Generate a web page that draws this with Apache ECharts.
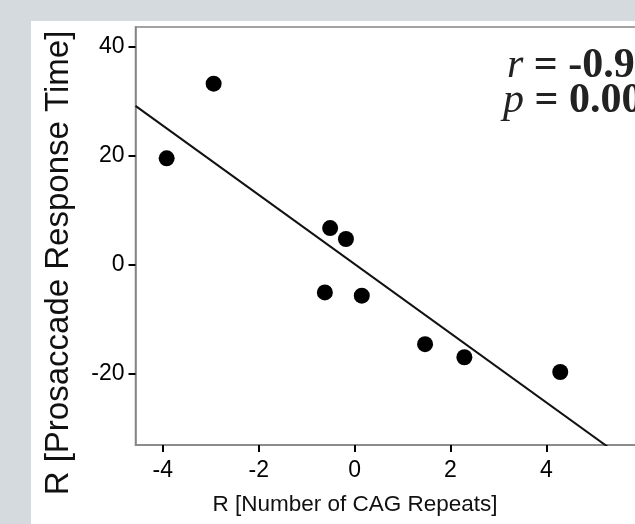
<!DOCTYPE html>
<html>
<head>
<meta charset="utf-8">
<title>Residual correlation: CAG repeats vs prosaccade response time</title>
<script src="https://cdn.jsdelivr.net/npm/echarts@6/dist/echarts.min.js"></script>
<style>
  html, body { margin: 0; padding: 0; }
  body { width: 635px; height: 524px; background: #d4dadd; position: relative; overflow: hidden; }
  /* the white panel runs past the right edge of the window, so the plot frame is cut there */
  #panel { position: absolute; left: 31px; top: 21px; width: 640px; height: 503px; background: #ffffff; }
</style>
</head>
<body>
<div id="panel"></div>
<script>
// Residuals of each subject (x: CAG repeat count, y: prosaccade response time)
const cagResidual = [-3.92, -2.94, -0.51, -0.18, -0.62, 0.15, 1.47, 2.29, 4.29];
const responseResidual = [19.5, 33.2, 6.7, 4.7, -5.1, -5.7, -14.6, -17.0, -19.7];

// Least-squares fit through the residuals
const fitSlope = -6.35;
const fitIntercept = 0.1;

// Axis extents and tick labels
const xExtent = [-4.57, 6.6];
const yExtent = [-33.1, 43.6];
const xTickValues = [-4, -2, 0, 2, 4, 6];
const yTickValues = [-20, 0, 20, 40];

// Correlation statistics
const statR = '-0.91';
const statP = '0.001';

const xTitle = 'R [Number of CAG Repeats]';
const yTitle = 'R [Prosaccade Response Time]';

const points = cagResidual.map((x, i) => [x, responseResidual[i]]);
const fitLine = xExtent.map(x => [x, fitIntercept + fitSlope * x]);

const chart = echarts.init(document.getElementById('panel'), null, { renderer: 'canvas' });

const frameColor = '#858585';
const tickColor = '#000000';
const sans = '"Liberation Sans", Arial, sans-serif';
const serif = '"Liberation Serif", "Times New Roman", serif';
const statRich = {
  i: { font: 'italic 42px ' + serif, fill: '#222' },
  b: { font: 'bold 42px ' + serif, fill: '#222' }
};

chart.setOption({
  animation: false,
  backgroundColor: '#ffffff',
  grid: {
    left: 104.5, top: 6, right: 0, bottom: 79,
    show: true, borderColor: frameColor, borderWidth: 1.5, backgroundColor: 'transparent'
  },
  xAxis: {
    type: 'value',
    min: xExtent[0], max: xExtent[1],
    axisLine: { show: true, onZero: false, lineStyle: { color: frameColor, width: 1.5 } },
    axisTick: { show: true, customValues: xTickValues, length: 7, lineStyle: { color: tickColor, width: 2 } },
    axisLabel: { customValues: xTickValues, margin: 14, color: '#000', fontSize: 23, fontFamily: sans },
    splitLine: { show: false }
  },
  yAxis: {
    type: 'value',
    min: yExtent[0], max: yExtent[1],
    axisLine: { show: true, onZero: false, lineStyle: { color: frameColor, width: 1.5 } },
    axisTick: { show: true, customValues: yTickValues, length: 7, lineStyle: { color: tickColor, width: 2 } },
    axisLabel: { customValues: yTickValues, margin: 11, color: '#000', fontSize: 23, fontFamily: sans },
    splitLine: { show: false }
  },
  graphic: [
    {
      type: 'text', x: 324, y: 484,
      style: { text: xTitle, font: '22.5px ' + sans, fill: '#111', textAlign: 'center', textVerticalAlign: 'middle' }
    },
    {
      type: 'text', x: 28, y: 242, rotation: Math.PI / 2,
      style: { text: yTitle, font: '33px ' + sans, fill: '#111', textAlign: 'center', textVerticalAlign: 'middle' }
    },
    {
      type: 'text', x: 476, y: 45,
      style: { text: '{i|r }{b|= ' + statR + '}', textVerticalAlign: 'middle', rich: statRich }
    },
    {
      type: 'text', x: 472, y: 80,
      style: { text: '{i|p }{b|= ' + statP + '}', textVerticalAlign: 'middle', rich: statRich }
    }
  ],
  series: [
    {
      type: 'line',
      data: fitLine,
      symbol: 'none',
      clip: true,
      lineStyle: { color: '#111', width: 2 },
      z: 2
    },
    {
      type: 'scatter',
      data: points,
      symbol: 'circle',
      symbolSize: 16,
      itemStyle: { color: '#000', opacity: 1 },
      z: 3
    }
  ]
});
</script>
</body>
</html>
